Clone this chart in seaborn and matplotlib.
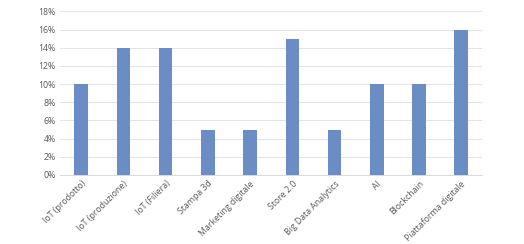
import matplotlib
matplotlib.use("Agg")
import matplotlib.pyplot as plt
import seaborn as sns
import pandas as pd
from matplotlib.ticker import PercentFormatter

categories = ["IoT (prodotto)", "IoT (produzione)", "IoT (Filiera)", "Stampa 3d",
              "Marketing digitale", "Store 2.0", "Big Data Analytics", "AI",
              "Blockchain", "Piattaforma digitale"]
values = [10, 14, 14, 5, 5, 15, 5, 10, 10, 16]

sns.set_theme(style="white")
plt.rcParams['font.family'] = ['Open Sans', 'DejaVu Sans']

df = pd.DataFrame({"cat": categories, "val": values})
fig = plt.figure(figsize=(5.24, 2.44), dpi=100)
ax = fig.add_axes([0.1145, 0.283, 0.806, 0.67])
sns.barplot(data=df, x="cat", y="val", color="#6A8DC6", width=0.32, ax=ax,
            saturation=1, linewidth=0)
ax.set_ylim(0, 18)
ax.set_xlim(-0.5, 9.5)
ax.set_yticks(range(0, 19, 2))
ax.yaxis.set_major_formatter(PercentFormatter(decimals=0))
ax.grid(axis="y", color="#E3E3E3", linewidth=0.7)
ax.set_axisbelow(True)
for s in ["top", "right", "left"]:
    ax.spines[s].set_visible(False)
ax.spines["bottom"].set_color("#D9D9D9")
ax.spines["bottom"].set_linewidth(0.7)
ax.set_xlabel("")
ax.set_ylabel("")
ax.tick_params(axis="both", length=0, labelsize=6.3, colors="#595959", pad=3)
plt.setp(ax.get_xticklabels(), rotation=45, ha="right", rotation_mode="anchor")
fig.savefig("out.png", dpi=100)
